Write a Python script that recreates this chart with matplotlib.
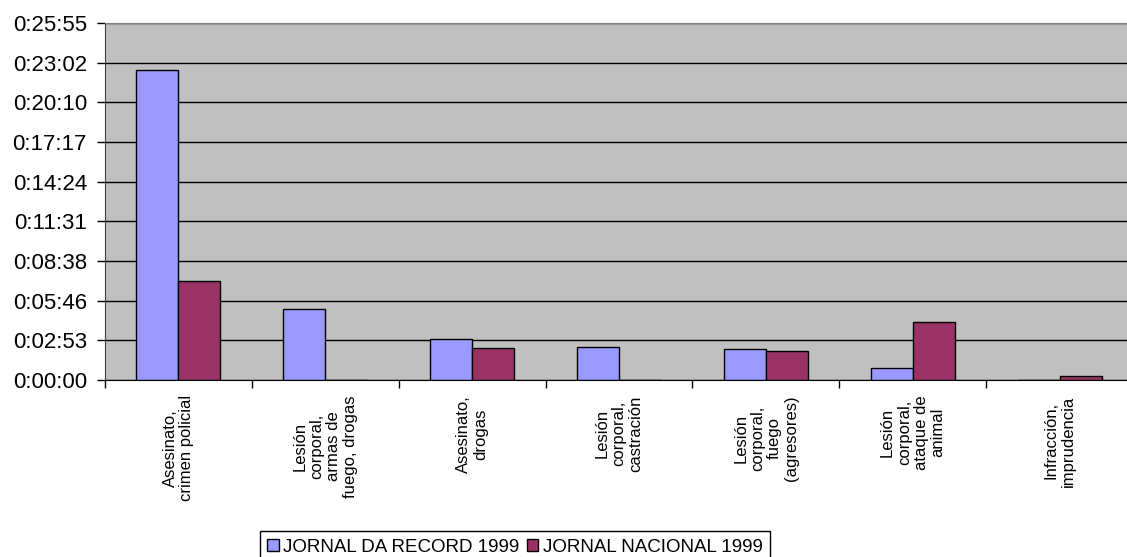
import numpy as np
import matplotlib
matplotlib.use('Agg')
import matplotlib.pyplot as plt
from matplotlib.ticker import FuncFormatter, FixedLocator

plt.rcParams['font.family'] = ['Liberation Sans', 'DejaVu Sans']

categories = ['Asesinato,\ncrimen policial',
              'Lesión\ncorporal,\narmas de\nfuego, drogas',
              'Asesinato,\ndrogas',
              'Lesión\ncorporal,\ncastración',
              'Lesión\ncorporal,\nfuego\n(agresores)',
              'Lesión\ncorporal,\nataque de\nanimal',
              'Infracción,\nimprudencia']

# durations in seconds
record_1999 = [1349, 310, 178, 142, 134, 52, 0]
nacional_1999 = [431, 0, 138, 0, 128, 254, 17]
series_names = ['JORNAL DA RECORD 1999', 'JORNAL NACIONAL 1999']

# excel time axis: 0.002 day steps
step = 0.002 * 86400
ymax = 9 * step


def hms(v, pos=None):
    s = int(round(v))
    return '%d:%02d:%02d' % (s // 3600, (s % 3600) // 60, s % 60)


W, H = 1127, 557
fig = plt.figure(figsize=(W / 100, H / 100), dpi=100)
left, right, top, bottom = 105, 1133, 23, 380
ax = fig.add_axes([left / W, 1 - bottom / H, (right - left) / W, (bottom - top) / H])
ax.set_facecolor('#C0C0C0')

x = np.arange(len(categories))
w = 1 / 3.5
ax.bar(x - w / 2, record_1999, w, color='#9999FF', edgecolor='black', linewidth=1,
       label=series_names[0], zorder=3)
ax.bar(x + w / 2, nacional_1999, w, color='#993366', edgecolor='black', linewidth=1,
       label=series_names[1], zorder=3)

ax.set_xlim(-0.5, len(categories) - 0.5)
ax.set_ylim(0, ymax)
ax.yaxis.set_major_locator(FixedLocator(np.arange(10) * step))
ax.yaxis.set_major_formatter(FuncFormatter(hms))
ax.grid(axis='y', color='black', linewidth=1, zorder=1)

ax.xaxis.set_major_locator(FixedLocator(np.arange(len(categories) + 1) - 0.5))
ax.xaxis.set_minor_locator(FixedLocator(x))
ax.set_xticklabels([])
ax.set_xticklabels(categories, minor=True, rotation=90, fontsize=12)
for lab in ax.get_xticklabels(minor=True):
    lab.set_multialignment('center')
    lab.set_linespacing(1.15)
ax.tick_params(axis='x', which='major', length=6, width=1, color='black')
ax.tick_params(axis='x', which='minor', length=0, pad=11)
ax.tick_params(axis='y', length=6, width=1, labelsize=16, pad=7)

ax.spines['right'].set_visible(False)
ax.spines['top'].set_color('#808080')
ax.spines['left'].set_color('#404040')
ax.spines['bottom'].set_color('black')

leg = fig.legend(loc='upper center', bbox_to_anchor=(515 / W, 1 - 531 / H), ncol=2,
                 frameon=True, fancybox=False, edgecolor='black', framealpha=1,
                 fontsize=13.5, handlelength=0.6, handleheight=0.6, handletextpad=0.25,
                 columnspacing=0.4, borderpad=0.4, borderaxespad=0)
leg.get_frame().set_linewidth(1)

fig.savefig('out.png', dpi=100)
